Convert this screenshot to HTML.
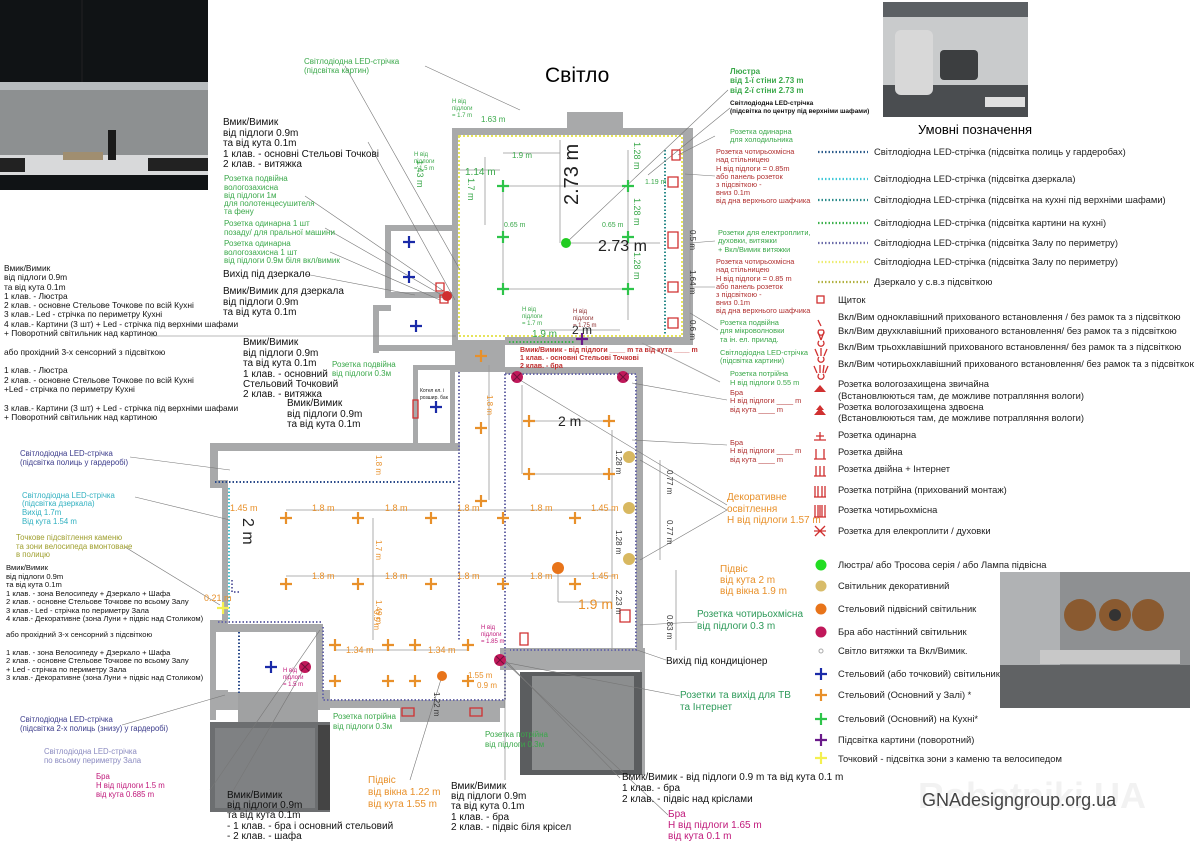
<!DOCTYPE html>
<html><head><meta charset="utf-8"><style>
html,body{margin:0;padding:0;background:#fff}
svg{display:block}
text{font-family:"Liberation Sans",sans-serif}
</style></head><body>
<svg width="1194" height="844" viewBox="0 0 1194 844" xmlns="http://www.w3.org/2000/svg">
<defs>
<g id="oc"><path d="M-6 0H6M0 -6V6" stroke="#e8902a" stroke-width="2.2"/></g>
<g id="gc"><path d="M-6 0H6M0 -6V6" stroke="#2ec44a" stroke-width="2.2"/></g>
<g id="bc"><path d="M-6 0H6M0 -6V6" stroke="#1a2aa8" stroke-width="2.2"/></g>
<g id="pc"><path d="M-6 0H6M0 -6V6" stroke="#6a1a8a" stroke-width="2.2"/></g>
<g id="yc"><path d="M-6 0H6M0 -6V6" stroke="#f4f050" stroke-width="2.2"/></g>
<g id="bra"><circle r="6" fill="#c0185a"/><path d="M-4 -4L4 4M4 -4L-4 4" stroke="#70103a" stroke-width="1"/></g>
</defs>

<!-- top-left kitchen photo -->
<rect x="0" y="0" width="208" height="190" fill="#101315"/>
<rect x="0" y="82" width="208" height="8" fill="#b8bcbe"/>
<rect x="0" y="90" width="208" height="65" fill="#8d9091"/>
<rect x="0" y="155" width="208" height="20" fill="#d8d9da"/>
<rect x="0" y="158" width="25" height="14" fill="#222"/>
<rect x="148" y="158" width="60" height="13" fill="#222"/>
<rect x="63" y="152" width="40" height="8" fill="#a08e70"/>
<rect x="108" y="130" width="8" height="30" fill="#1a1a1a"/>
<line x1="82" y1="0" x2="82" y2="82" stroke="#222" stroke-width="1"/>

<!-- top-right photo -->
<rect x="883" y="2" width="145" height="115" fill="#c9cbcc"/>
<rect x="883" y="2" width="145" height="15" fill="#5c6064"/>
<rect x="883" y="85" width="145" height="32" fill="#4a4d50"/>
<rect x="895" y="30" width="38" height="65" fill="#d8d8d8" rx="6"/>
<rect x="940" y="50" width="38" height="30" fill="#3c3e40" rx="4"/>
<rect x="985" y="97" width="40" height="10" fill="#e0e0e0"/>

<!-- bottom-right photo -->
<rect x="1000" y="572" width="190" height="136" fill="#8e9092"/>
<rect x="1000" y="572" width="60" height="136" fill="#b0b2b4"/>
<rect x="1000" y="665" width="190" height="43" fill="#606264"/>
<rect x="1040" y="650" width="140" height="14" fill="#c8c8c8"/>
<circle cx="1080" cy="615" r="16" fill="#8a5a30"/>
<circle cx="1115" cy="615" r="16" fill="#8a5a30"/>
<circle cx="1115" cy="615" r="6" fill="#333"/>
<circle cx="1148" cy="615" r="16" fill="#8a5a30"/>

<!-- titles -->
<text x="545" y="82" font-size="21">Світло</text>
<text x="918" y="134" font-size="13">Умовні позначення</text>

<!-- ============ FLOOR PLAN ============ -->
<g fill="#a8a9aa">
<rect x="567" y="112" width="56" height="20"/>
<rect x="452" y="128" width="241" height="7"/>
<rect x="683" y="128" width="10" height="217"/>
<rect x="452" y="128" width="6" height="222"/>
<rect x="505" y="337" width="188" height="8"/>
<rect x="385" y="225" width="70" height="6"/>
<rect x="385" y="225" width="6" height="70"/>
<rect x="385" y="292" width="70" height="6"/>
<rect x="373" y="305" width="18" height="6"/>
<rect x="373" y="305" width="6" height="48"/>
<rect x="373" y="345" width="85" height="6"/>
<rect x="455" y="340" width="50" height="32"/>
<rect x="505" y="367" width="137" height="7"/>
<rect x="636" y="367" width="7" height="288"/>
<rect x="413" y="365" width="42" height="5"/>
<rect x="413" y="365" width="5" height="80"/>
<rect x="450" y="365" width="5" height="80"/>
<rect x="210" y="443" width="250" height="8"/>
<rect x="210" y="443" width="8" height="45"/>
<rect x="210" y="480" width="18" height="8"/>
<rect x="222" y="480" width="6" height="148"/>
<rect x="210" y="620" width="18" height="6"/>
<rect x="210" y="620" width="6" height="100"/>
<rect x="210" y="624" width="113" height="8"/>
<rect x="316" y="624" width="7" height="72"/>
<rect x="210" y="690" width="120" height="20"/>
<rect x="323" y="700" width="182" height="8"/>
<rect x="400" y="700" width="100" height="22"/>
<rect x="500" y="648" width="145" height="22"/>
<rect x="640" y="650" width="5" height="125"/>
</g>
<rect x="210" y="722" width="120" height="90" fill="#6c6e70"/>
<rect x="215" y="728" width="100" height="80" fill="#7f8183"/>
<rect x="318" y="725" width="12" height="85" fill="#444"/>
<rect x="520" y="672" width="122" height="103" fill="#5b5d5f"/>
<rect x="532" y="676" width="102" height="94" fill="#8c8e8f"/>
<rect x="228" y="632" width="88" height="60" fill="#fff"/>
<rect x="238" y="692" width="80" height="30" fill="#a0a1a2"/>

<!-- LED strips -->
<g fill="none" stroke-width="2">
<rect x="459" y="136" width="223" height="200" stroke="#e6e45a" stroke-dasharray="2,2"/>
<line x1="665" y1="150" x2="665" y2="335" stroke="#2a8a8a" stroke-dasharray="1.5,2"/>
<path d="M505 374V650M505 374H636V650H510" stroke="#6a6aa8" stroke-dasharray="1.5,2"/>
<path d="M459 372V640" stroke="#6a6aa8" stroke-dasharray="1.5,2"/>
<line x1="215" y1="482" x2="455" y2="482" stroke="#2a4a8a" stroke-dasharray="1.5,2"/>
<line x1="229" y1="488" x2="229" y2="620" stroke="#40c0d0" stroke-dasharray="1.5,2"/>
<path d="M232 580V592H240" stroke="#6a6aa8" stroke-dasharray="1.5,2"/>
<path d="M218 622H323" stroke="#6a6aa8" stroke-dasharray="1.5,2"/>
<path d="M323 627V700H505V650" stroke="#6a6aa8" stroke-dasharray="1.5,2"/>
<line x1="239" y1="632" x2="239" y2="694" stroke="#2a4a8a" stroke-dasharray="1.5,2"/>
<line x1="509" y1="342" x2="575" y2="342" stroke="#3ab04a" stroke-dasharray="1.5,2"/>
</g>

<!-- dimension lines -->
<g stroke="#999" stroke-width="0.8" fill="none">
<line x1="503" y1="153" x2="560" y2="153"/><line x1="560" y1="140" x2="560" y2="243"/>
<line x1="503" y1="186" x2="628" y2="186"/><line x1="503" y1="289" x2="628" y2="289"/>
<line x1="503" y1="186" x2="503" y2="289"/><line x1="628" y1="150" x2="628" y2="320"/>
<line x1="566" y1="243" x2="660" y2="243"/>
<line x1="485" y1="157" x2="485" y2="225"/>
<line x1="458" y1="170" x2="500" y2="170"/>
<line x1="540" y1="330" x2="620" y2="330"/>
<line x1="286" y1="510" x2="615" y2="510"/><line x1="286" y1="576" x2="615" y2="576"/>
<line x1="373" y1="518" x2="373" y2="640"/>
<line x1="529" y1="421" x2="609" y2="421"/><line x1="522" y1="385" x2="522" y2="474"/>
<line x1="529" y1="474" x2="609" y2="474"/>
<line x1="489" y1="365" x2="489" y2="500"/>
<line x1="612" y1="430" x2="612" y2="650"/>
<line x1="335" y1="650" x2="468" y2="650"/>
<line x1="558" y1="568" x2="558" y2="602"/><line x1="558" y1="602" x2="612" y2="602"/>
<line x1="660" y1="460" x2="660" y2="560"/>
<line x1="676" y1="570" x2="676" y2="650"/>
<line x1="690" y1="230" x2="690" y2="335"/>
<line x1="642" y1="343" x2="720" y2="382"/>
</g>
<g stroke="#777" stroke-width="0.6" fill="none">
<line x1="345" y1="66" x2="460" y2="270"/>
<line x1="425" y1="66" x2="520" y2="110"/>
<line x1="368" y1="142" x2="455" y2="300"/>
<line x1="305" y1="196" x2="445" y2="292"/>
<line x1="325" y1="228" x2="440" y2="294"/>
<line x1="330" y1="252" x2="440" y2="300"/>
<line x1="305" y1="274" x2="415" y2="295"/>
<line x1="150" y1="336" x2="456" y2="336"/>
<line x1="130" y1="457" x2="230" y2="470"/>
<line x1="135" y1="497" x2="230" y2="520"/>
<line x1="125" y1="547" x2="220" y2="605"/>
<line x1="122" y1="725" x2="225" y2="695"/>
<line x1="728" y1="90" x2="566" y2="243"/>
<line x1="730" y1="108" x2="648" y2="175"/>
<line x1="715" y1="136" x2="678" y2="155"/>
<line x1="715" y1="176" x2="685" y2="174"/>
<line x1="715" y1="241" x2="690" y2="243"/>
<line x1="715" y1="287" x2="690" y2="287"/>
<line x1="690" y1="313" x2="718" y2="330"/>
<line x1="520" y1="380" x2="727" y2="505"/>
<line x1="632" y1="383" x2="727" y2="400"/>
<line x1="632" y1="440" x2="727" y2="445"/>
<line x1="640" y1="460" x2="727" y2="510"/>
<line x1="640" y1="560" x2="727" y2="510"/>
<line x1="640" y1="625" x2="697" y2="622"/>
<line x1="637" y1="650" x2="666" y2="660"/>
<line x1="503" y1="662" x2="680" y2="696"/>
<line x1="505" y1="660" x2="620" y2="778"/>
<line x1="505" y1="662" x2="668" y2="815"/>
<line x1="505" y1="670" x2="505" y2="780"/>
<line x1="442" y1="676" x2="410" y2="780"/>
<line x1="305" y1="667" x2="230" y2="796"/>
<line x1="320" y1="630" x2="210" y2="790"/>
</g>

<!-- fixtures -->
<use href="#gc" x="503" y="186"/><use href="#gc" x="628" y="186"/>
<use href="#gc" x="503" y="237"/><use href="#gc" x="628" y="237"/>
<use href="#gc" x="503" y="289"/><use href="#gc" x="628" y="289"/>
<circle cx="566" cy="243" r="5" fill="#22cc22"/>
<use href="#bc" x="409" y="242"/><use href="#bc" x="409" y="277"/>
<use href="#bc" x="416" y="326"/><use href="#bc" x="436" y="407"/>
<use href="#bc" x="271" y="667"/>
<use href="#pc" x="582" y="339"/>
<use href="#yc" x="223" y="608"/>
<g>
<use href="#oc" x="286" y="518"/><use href="#oc" x="358" y="518"/><use href="#oc" x="431" y="518"/><use href="#oc" x="503" y="518"/><use href="#oc" x="575" y="518"/>
<use href="#oc" x="286" y="584"/><use href="#oc" x="358" y="584"/><use href="#oc" x="431" y="584"/><use href="#oc" x="503" y="584"/><use href="#oc" x="575" y="584"/>
<use href="#oc" x="481" y="356"/><use href="#oc" x="481" y="428"/><use href="#oc" x="481" y="501"/>
<use href="#oc" x="529" y="421"/><use href="#oc" x="609" y="421"/>
<use href="#oc" x="529" y="474"/><use href="#oc" x="609" y="474"/>
<use href="#oc" x="335" y="645"/><use href="#oc" x="335" y="681"/>
<use href="#oc" x="388" y="645"/><use href="#oc" x="388" y="681"/>
<use href="#oc" x="415" y="645"/><use href="#oc" x="415" y="681"/>
<use href="#oc" x="468" y="645"/><use href="#oc" x="468" y="681"/>
</g>
<circle cx="558" cy="568" r="6" fill="#e8741a"/>
<circle cx="442" cy="676" r="5" fill="#e8741a"/>
<circle cx="629" cy="457" r="6" fill="#d8b860"/>
<circle cx="629" cy="508" r="6" fill="#d8b860"/>
<circle cx="629" cy="559" r="6" fill="#d8b860"/>
<use href="#bra" x="517" y="377"/><use href="#bra" x="623" y="377"/>
<use href="#bra" x="305" y="667"/><use href="#bra" x="500" y="660"/>

<g fill="none" stroke="#d03030" stroke-width="1.3">
<path d="M672 150h8v10h-8zM668 177h10v10h-10z"/>
<path d="M668 232h10v16h-10z"/><path d="M668 282h10v10h-10z"/><path d="M668 318h10v10h-10z"/>
<path d="M620 610h10v12h-10z"/><path d="M520 633h8v12h-8z"/>
<path d="M402 708h12v8h-12z"/><path d="M470 708h12v8h-12z"/>
<path d="M413 400h5v18h-5z"/>
<path d="M436 283h8v8h-8zM440 295h8v8h-8z"/>
</g>
<circle cx="447" cy="296" r="5" fill="#d03030"/>

<!-- plan texts -->
<g font-size="8" fill="#3aa84a">
<text x="304" y="64">Світлодіодна LED-стрічка</text><text x="304" y="73">(підсвітка картин)</text>
<text x="452" y="103" font-size="6">Н від</text><text x="452" y="110" font-size="6">підлоги</text><text x="452" y="117" font-size="6">= 1.7 m</text>
<text x="481" y="122">1.63 m</text>
<text x="414" y="156" font-size="6">Н від</text><text x="414" y="163" font-size="6">підлоги</text><text x="414" y="170" font-size="6">= 1.5 m</text>
<text x="512" y="158">1.9 m</text>
<text x="465" y="175" font-size="10">1.14 m</text>
<text x="504" y="227" font-size="7">0.65 m</text><text x="602" y="227" font-size="7">0.65 m</text>
<text x="645" y="184" font-size="7">1.19 m</text>
<text x="522" y="311" font-size="6">Н від</text><text x="522" y="318" font-size="6">підлоги</text><text x="522" y="325" font-size="6">= 1.7 m</text>
<text x="532" y="337" font-size="10">1.9 m</text>
<text x="224" y="181">Розетка подвійна</text><text x="224" y="190">вологозахисна</text><text x="224" y="198">від підлоги 1м</text><text x="224" y="206">для полотенцесушителя</text><text x="224" y="214">та фену</text>
<text x="224" y="226">Розетка одинарна 1 шт</text><text x="224" y="235">позаду/ для пральної машини</text>
<text x="224" y="246">Розетка одинарна</text><text x="224" y="255">вологозахисна 1 шт</text><text x="224" y="263">від підлоги 0.9м біля вкл/вимик</text>
<text x="332" y="367">Розетка подвійна</text><text x="332" y="376">від підлоги 0.3м</text>
<text x="333" y="719">Розетка потрійна</text><text x="333" y="729">від підлоги 0.3м</text>
<text x="485" y="737">Розетка потрійна</text><text x="485" y="747">від підлоги 0.3м</text>
</g>
<g fill="#3aa84a" font-size="9" transform="rotate(90)">
<text x="142" y="-634">1.28 m</text><text x="198" y="-634">1.28 m</text><text x="252" y="-634">1.28 m</text>
<text x="178" y="-468">1.7 m</text>
<text x="160" y="-417">1.43 m</text>
</g>
<text x="0" y="0" font-size="20" fill="#222" transform="translate(578,205) rotate(-90)">2.73 m</text>
<text x="598" y="251" font-size="16" fill="#222">2.73 m</text>
<text x="572" y="334" font-size="12" fill="#222">2 m</text>
<text x="573" y="313" font-size="6" fill="#8a2a2a">Н від</text><text x="573" y="320" font-size="6" fill="#8a2a2a">підлоги</text><text x="573" y="327" font-size="6" fill="#8a2a2a">= 1.75 m</text>
<g font-size="7" fill="#c03030" font-weight="bold">
<text x="520" y="352">Вмик/Вимик - від підлоги ____ m та від кута ____ m</text>
<text x="520" y="360">1 клав. - основні Стельові Точкові</text>
<text x="520" y="368">2 клав. - бра</text>
</g>
<text x="420" y="392" font-size="5" fill="#222">Котел ел. і</text><text x="420" y="399" font-size="5" fill="#222">розшир. бак</text>
<text x="558" y="426" font-size="14" fill="#222">2 m</text>
<text x="0" y="0" font-size="16" fill="#222" transform="translate(243,518) rotate(90)">2 m</text>
<text x="578" y="609" font-size="14" fill="#e8902a">1.9 m</text>
<g font-size="9" fill="#e8902a">
<text x="230" y="511">1.45 m</text><text x="312" y="511">1.8 m</text><text x="385" y="511">1.8 m</text><text x="457" y="511">1.8 m</text><text x="530" y="511">1.8 m</text><text x="591" y="511">1.45 m</text>
<text x="312" y="579">1.8 m</text><text x="385" y="579">1.8 m</text><text x="457" y="579">1.8 m</text><text x="530" y="579">1.8 m</text><text x="591" y="579">1.45 m</text>
<text x="346" y="653">1.34 m</text><text x="428" y="653">1.34 m</text>
<text x="468" y="678" font-size="8">1.55 m</text><text x="477" y="688" font-size="8">0.9 m</text>
<text x="204" y="601">0.21 m</text>
</g>
<g font-size="8" fill="#e8902a" transform="rotate(90)">
<text x="455" y="-376">1.8 m</text><text x="540" y="-376">1.7 m</text><text x="600" y="-376">1.49 m</text><text x="610" y="-374">0.5 m</text>
<text x="395" y="-487">1.8 m</text>
</g>
<g font-size="8" fill="#333" transform="rotate(90)">
<text x="450" y="-616">1.28 m</text><text x="530" y="-616">1.28 m</text><text x="590" y="-616">2.23 m</text>
<text x="470" y="-667">0.77 m</text><text x="520" y="-667">0.77 m</text><text x="615" y="-667">0.83 m</text>
<text x="230" y="-690">0.5 m</text><text x="270" y="-690">1.64 m</text><text x="320" y="-690">0.6 m</text>
<text x="692" y="-434">1.22 m</text>
</g>
<g font-size="6" fill="#c0187a">
<text x="481" y="629">Н від</text><text x="481" y="636">підлоги</text><text x="481" y="643">= 1.85 m</text>
<text x="283" y="672">Н від</text><text x="283" y="679">підлоги</text><text x="283" y="686">= 1.5 m</text>
</g>

<!-- left texts -->
<g font-size="10" fill="#111">
<text x="223" y="125">Вмик/Вимик</text><text x="223" y="136">від підлоги 0.9m</text><text x="223" y="146">та від кута 0.1m</text><text x="223" y="157">1 клав. - основні Стельові Точкові</text><text x="223" y="167">2 клав. - витяжка</text>
<text x="223" y="277">Вихід під дзеркало</text>
<text x="223" y="294">Вмик/Вимик для дзеркала</text><text x="223" y="305">від підлоги 0.9m</text><text x="223" y="315">та від кута 0.1m</text>
<text x="243" y="345">Вмик/Вимик</text><text x="243" y="356">від підлоги 0.9m</text><text x="243" y="366">та від кута 0.1m</text><text x="243" y="377">1 клав. - основний</text><text x="243" y="387">Стельовий Точковий</text><text x="243" y="397">2 клав. - витяжка</text>
<text x="287" y="406">Вмик/Вимик</text><text x="287" y="417">від підлоги 0.9m</text><text x="287" y="427">та від кута 0.1m</text>
<text x="227" y="798">Вмик/Вимик</text><text x="227" y="808">від підлоги 0.9m</text><text x="227" y="818">та від кута 0.1m</text><text x="227" y="829">- 1 клав. - бра і основний стельовий</text><text x="227" y="839">- 2 клав. - шафа</text>
<text x="451" y="789">Вмик/Вимик</text><text x="451" y="799">від підлоги 0.9m</text><text x="451" y="809">та від кута 0.1m</text><text x="451" y="820">1 клав. - бра</text><text x="451" y="830">2 клав. - підвіс біля крісел</text>
<text x="622" y="780">Вмик/Вимик - від підлоги 0.9 m та від кута 0.1 m</text><text x="622" y="791">1 клав. - бра</text><text x="622" y="802">2 клав. - підвіс над кріслами</text>
<text x="666" y="664">Вихід під кондиціонер</text>
</g>
<g font-size="8.4" fill="#111">
<text x="4" y="271">Вмик/Вимик</text><text x="4" y="280">від підлоги 0.9m</text><text x="4" y="290">та від кута 0.1m</text><text x="4" y="299">1 клав. - Люстра</text><text x="4" y="308">2 клав. - основне Стельове Точкове по всій Кухні</text><text x="4" y="317">3 клав.-  Led - стрічка по периметру Кухні</text><text x="4" y="327">4 клав.- Картини (3 шт) +  Led - стрічка під верхніми шафами</text><text x="4" y="336">+ Поворотний світильник над картиною</text>
<text x="4" y="355">або прохідний 3-х сенсорний з підсвіткою</text>
<text x="4" y="373">1 клав. - Люстра</text><text x="4" y="383">2 клав. -  основне Стельове Точкове по всій Кухні</text><text x="4" y="392">+Led - стрічка по периметру Кухні</text>
<text x="4" y="411">3 клав.-  Картини (3 шт) +  Led - стрічка під верхніми шафами</text><text x="4" y="420">+ Поворотний світильник над картиною</text>
</g>
<g font-size="7.6" fill="#111">
<text x="6" y="570">Вмик/Вимик</text><text x="6" y="579">від підлоги 0.9m</text><text x="6" y="587">та від кута 0.1m</text><text x="6" y="596">1 клав. - зона Велосипеду + Дзеркало + Шафа</text><text x="6" y="604">2 клав. - основне Стельове Точкове по всьому Залу</text><text x="6" y="613">3 клав.- Led - стрічка по периметру Зала</text><text x="6" y="621">4 клав.- Декоративне (зона Луни + підвіс над Столиком)</text>
<text x="6" y="637">або прохідний 3-х сенсорний з підсвіткою</text>
<text x="6" y="655">1 клав. - зона Велосипеду + Дзеркало + Шафа</text><text x="6" y="663">2 клав. - основне Стельове Точкове по всьому Залу</text><text x="6" y="672">+ Led - стрічка по периметру Зала</text><text x="6" y="680">3 клав.- Декоративне (зона Луни + підвіс над Столиком)</text>
</g>
<g font-size="7.8">
<text x="20" y="456" fill="#3a3a8a">Світлодіодна LED-стрічка</text><text x="20" y="465" fill="#3a3a8a">(підсвітка полиць у гардеробі)</text>
<text x="22" y="498" fill="#30b0c0">Світлодіодна LED-стрічка</text><text x="22" y="506" fill="#30b0c0">(підсвітка дзеркала)</text><text x="22" y="515" fill="#30b0c0">Вихід 1.7m</text><text x="22" y="524" fill="#30b0c0">Від кута 1.54 m</text>
<text x="16" y="540" fill="#a0a030">Точкове підсвітлення каменю</text><text x="16" y="549" fill="#a0a030">та зони велосипеда вмонтоване</text><text x="16" y="557" fill="#a0a030">в полицю</text>
<text x="20" y="722" fill="#3a3a8a">Світлодіодна LED-стрічка</text><text x="20" y="731" fill="#3a3a8a">(підсвітка 2-х полиць (знизу) у гардеробі)</text>
<text x="44" y="754" fill="#8a8ac0">Світлодіодна LED-стрічка</text><text x="44" y="763" fill="#8a8ac0">по всьому периметру Зала</text>
<text x="96" y="779" fill="#c0187a">Бра</text><text x="96" y="788" fill="#c0187a">Н від підлоги 1.5 m</text><text x="96" y="797" fill="#c0187a">від кута 0.685 m</text>
</g>
<g font-size="10" fill="#e8902a">
<text x="368" y="783">Підвіс</text><text x="368" y="795">від вікна 1.22 m</text><text x="368" y="807">від кута 1.55 m</text>
<text x="727" y="500">Декоративне</text><text x="727" y="512">освітлення</text><text x="727" y="523">Н від підлоги 1.57 m</text>
<text x="720" y="572">Підвіс</text><text x="720" y="583">від кута 2 m</text><text x="720" y="594">від вікна 1.9 m</text>
</g>
<g font-size="10" fill="#2e9a5a">
<text x="697" y="617">Розетка чотирьохмісна</text><text x="697" y="629">від підлоги 0.3 m</text>
<text x="680" y="698">Розетки та вихід для ТВ</text><text x="680" y="710">та Інтернет</text>
</g>
<g font-size="10" fill="#c0187a">
<text x="668" y="817">Бра</text><text x="668" y="828">Н від підлоги 1.65 m</text><text x="668" y="839">від кута 0.1 m</text>
</g>

<g font-size="8" font-weight="bold" fill="#3aa84a">
<text x="730" y="74">Люстра</text><text x="730" y="83">від 1-ї стіни 2.73 m</text><text x="730" y="93">від 2-ї стіни 2.73 m</text>
</g>
<text x="730" y="105" font-size="6.5" font-weight="bold" fill="#111">Світлодіодна LED-стрічка</text>
<text x="730" y="113" font-size="6.5" font-weight="bold" fill="#111">(підсвітка по центру під верхніми шафами)</text>
<g font-size="7.4">
<g fill="#3aa84a"><text x="730" y="134">Розетка одинарна</text><text x="730" y="142">для холодильника</text></g>
<g fill="#b03030"><text x="716" y="154">Розетка чотирьохмісна</text><text x="716" y="162">над стільницею</text><text x="716" y="171">Н від підлоги = 0.85m</text><text x="716" y="179">або панель розеток</text><text x="716" y="187">з підсвіткою -</text><text x="716" y="195">вниз 0.1m</text><text x="716" y="203">від дна верхнього шафчика</text></g>
<g fill="#3aa84a"><text x="718" y="235">Розетки для електроплити,</text><text x="718" y="243">духовки, витяжки</text><text x="718" y="252">+ Вкл/Вимик витяжки</text></g>
<g fill="#b03030"><text x="716" y="264">Розетка чотирьохмісна</text><text x="716" y="272">над стільницею</text><text x="716" y="281">Н від підлоги = 0.85 m</text><text x="716" y="289">або панель розеток</text><text x="716" y="297">з підсвіткою -</text><text x="716" y="305">вниз 0.1m</text><text x="716" y="313">від дна верхнього шафчика</text></g>
<g fill="#3aa84a"><text x="720" y="325">Розетка подвійна</text><text x="720" y="333">для мікроволновки</text><text x="720" y="342">та ін. ел. прилад.</text></g>
<g fill="#3aa84a"><text x="720" y="355">Світлодіодна LED-стрічка</text><text x="720" y="363">(підсвітка картини)</text></g>
<g fill="#3aa84a"><text x="730" y="376">Розетка потрійна</text><text x="730" y="385">Н від підлоги 0.55 m</text></g>
<g fill="#b03030"><text x="730" y="395">Бра</text><text x="730" y="403">Н від підлоги ____ m</text><text x="730" y="412">від кута ____ m</text></g>
<g fill="#b03030"><text x="730" y="445">Бра</text><text x="730" y="453">Н від підлоги ____ m</text><text x="730" y="462">від кута ____ m</text></g>
</g>

<!-- legend -->
<g stroke-width="2.2" stroke-dasharray="1.5,2">
<line x1="818" y1="152" x2="868" y2="152" stroke="#2a5a8a"/>
<line x1="818" y1="179" x2="868" y2="179" stroke="#40c8d8"/>
<line x1="818" y1="200" x2="868" y2="200" stroke="#2a8a8a"/>
<line x1="818" y1="223" x2="868" y2="223" stroke="#3ab04a"/>
<line x1="818" y1="243" x2="868" y2="243" stroke="#6a6aa8"/>
<line x1="818" y1="262" x2="868" y2="262" stroke="#ecec70"/>
<line x1="818" y1="282" x2="868" y2="282" stroke="#b0b040"/>
</g>
<g font-size="9.4" fill="#222">
<text x="874" y="155">Світлодіодна LED-стрічка (підсвітка полиць у гардеробах)</text>
<text x="874" y="182">Світлодіодна LED-стрічка (підсвітка дзеркала)</text>
<text x="874" y="203">Світлодіодна LED-стрічка (підсвітка на кухні під верхніми шафами)</text>
<text x="874" y="226">Світлодіодна LED-стрічка (підсвітка картини на кухні)</text>
<text x="874" y="246">Світлодіодна LED-стрічка (підсвітка Залу по периметру)</text>
<text x="874" y="265">Світлодіодна LED-стрічка (підсвітка Залу по периметру)</text>
<text x="874" y="285">Дзеркало у с.в.з підсвіткою</text>
<text x="838" y="303">Щиток</text>
<text x="838" y="320">Вкл/Вим одноклавішний прихованого встановлення / без рамок та з підсвіткою</text>
<text x="838" y="334">Вкл/Вим двухклавішний прихованого встановлення/ без рамок та з підсвіткою</text>
<text x="838" y="350">Вкл/Вим трьохклавішний прихованого встановлення/ без рамок та з підсвіткою</text>
<text x="838" y="367">Вкл/Вим чотирьохклавішний прихованого встановлення/ без рамок та з підсвіткою</text>
<text x="838" y="387">Розетка вологозахищена звичайна</text>
<text x="838" y="399">(Встановлюються там, де можливе потрапляння вологи)</text>
<text x="838" y="410">Розетка вологозахищена здвоєна</text>
<text x="838" y="421">(Встановлюються там, де можливе потрапляння вологи)</text>
<text x="838" y="438">Розетка одинарна</text>
<text x="838" y="455">Розетка двійна</text>
<text x="838" y="472">Розетка двійна + Інтернет</text>
<text x="838" y="493">Розетка потрійна (прихований монтаж)</text>
<text x="838" y="513">Розетка чотирьохмісна</text>
<text x="838" y="534">Розетка для елекроплити / духовки</text>
<text x="838" y="568">Люстра/ або Тросова серія / або Лампа підвісна</text>
<text x="838" y="589">Світильник декоративний</text>
<text x="838" y="612">Стельовий підвісний світильник</text>
<text x="838" y="635">Бра або настінний світильник</text>
<text x="838" y="654">Світло витяжки та Вкл/Вимик.</text>
<text x="838" y="677">Стельовий (або точковий) світильник</text>
<text x="838" y="698">Стельовий (Основний у Залі) *</text>
<text x="838" y="722">Стельовий (Основний) на Кухні*</text>
<text x="838" y="743">Підсвітка картини (поворотний)</text>
<text x="838" y="762">Точковий - підсвітка зони з каменю та велосипедом</text>
</g>
<g fill="none" stroke="#d03030" stroke-width="1.3">
<rect x="817" y="296" width="7" height="7"/>
<path d="M821 326l-3 -6M819 330a3 3 0 1 0 4 0z"/>
<path d="M821 340l-3 -8M821 340l3 -8M819 341a3 3 0 1 0 4 0"/>
<path d="M818 356l-3-7M821 356l0-8M824 356l3-7M819 357a3 3 0 1 0 4 0"/>
<path d="M817 373l-3-7M820 373l0-8M823 373l1-8M825 373l3-7M819 374a3 3 0 1 0 4 0"/>
<path d="M814 440h12M820 440v-8M816 436h8"/>
<path d="M816 449v10h8v-10M814 459h12"/>
<path d="M816 466v10h8v-10M814 476h12M820 466v10"/>
<path d="M815 486v11h10v-11M814 497h12M818 486v11M822 486v11"/>
<path d="M815 505v12h10v-12M814 517h12M818 505v12M820 505v12M822 505v12"/>
<path d="M815 526l10 10M825 526l-10 10M814 531h12"/>
</g>
<path d="M814 392h12l-6 -7z" fill="#d03030"/>
<path d="M814 415h12l-6 -7zM816 410h8l-4 -5z" fill="#d03030"/>
<circle cx="821" cy="565" r="5.5" fill="#22dd22"/>
<circle cx="821" cy="586" r="5.5" fill="#d8bc6a"/>
<circle cx="821" cy="609" r="5.5" fill="#e8741a"/>
<circle cx="821" cy="632" r="5.5" fill="#c0185a"/>
<circle cx="821" cy="651" r="2" fill="none" stroke="#aaa"/>
<use href="#bc" x="821" y="674"/>
<use href="#oc" x="821" y="695"/>
<use href="#gc" x="821" y="719"/>
<use href="#pc" x="821" y="740"/>
<use href="#yc" x="821" y="758"/>

<text x="918" y="808" font-size="36" fill="#f2f2f2" font-weight="bold">Robotniki.UA</text>
<text x="922" y="806" font-size="18" fill="#444">GNAdesigngroup.org.ua</text>
</svg>
</body></html>
